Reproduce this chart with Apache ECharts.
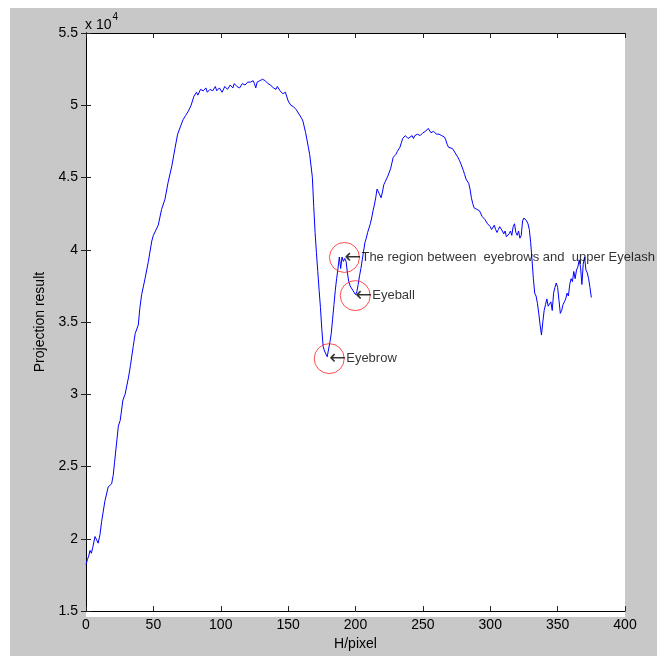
<!DOCTYPE html>
<html>
<head>
<meta charset="utf-8">
<script src="https://cdn.jsdelivr.net/npm/echarts@6/dist/echarts.min.js"></script>
<style>html,body{margin:0;padding:0;background:#fff;}#c{width:657px;height:656px;}</style>
</head>
<body>
<div id="c"></div>
<script>
// H/pixel positions
var hPixel = [0,1,2,3,4,5,6.7,9,10.4,11.6,14,16.5,19,20.2,21.2,23,24,25.4,27.4,29,31.6,33,35,36.5,38.8,40,41.3,43.8,46.3,48.8,50,53.6,56.1,58.6,61,63.7,66,68,70,72,74,76,78,80,82,83,85,87,89,90,92,94,96,97,99,101,103,105,107,109,110,112,114,116,118,120,122,124,125,126,127,129,131,133,135,137,139,141,142,144,146,148,150,152,154,156,158,160,161,162,163,164,165,166,167,168,169,170,171,172,173,174,175,176,177,178,179,180,181,182,183,184,185,186,187,188,189,190,191,192,193,194,195,196,197,198,199,200,201,202,203,204,205,206,207,208,209,210,211,212,213,214,215,216,217,218,219,220,221,222,223,224,225,226,227,228,229,230,231,232,233,234,235,236,237,238,239,240,242,243,244,246,248,250,252,254,255,256,258,260,262,264,266,267,268,269,270,272,273,274,276,277,278,280,281,282,284,285,286,287,288,290,292,294,296,298,299,300,301,302,303,304,305,306,307,308,309,310,311,312,313,314,315,316,317,318,319,320,321,322,323,324,325,326,327,328,329,330,331,332,333,334,335,336,337,338,339,340,341,342,343,344,345,346,347,348,349,350,351,352,353,354,355,356,357,358,359,360,361,362,363,364,365,366,367,368,369,370,371,372,373,374,375];
// Projection result values
var projection = [18200,18560,18800,19200,19000,19400,20160,19700,20300,21200,22600,23600,23800,24400,25300,26900,27800,28200,29600,30000,31200,32000,33300,34200,34800,36000,36900,38000,39200,40600,41000,41700,42800,43500,44700,45800,47000,48000,48500,49000,49300,49600,50000,50600,50900,50700,51100,51000,51200,50900,51100,51000,51300,51000,51200,50900,51300,51100,51400,51200,51500,51300,51200,51500,51400,51600,51600,51700,51500,51200,51600,51700,51800,51700,51500,51400,51200,51100,51300,51000,50800,50900,50300,50000,49900,49700,49400,49100,48900,48500,48100,47600,47100,46600,45800,45000,43000,41200,39800,38500,37200,36000,34500,33300,33000,32800,32600,32700,33600,34200,35200,36200,37200,38000,38700,39500,38700,39500,39200,39400,39200,38400,37800,37500,37400,37200,37100,36900,37100,37600,38200,38700,39300,39900,40500,40800,41200,41500,41800,42200,42700,43100,43600,44200,44300,43800,43600,44000,44500,44700,44900,45100,45200,45600,46000,46400,46500,46600,46800,46800,47100,47400,47700,47800,47900,47800,47700,47800,47900,47700,47900,48000,47900,48100,48200,48400,48300,48100,48200,48000,48000,47900,47800,47600,47300,47100,47000,47000,46900,46700,46400,46200,46000,45500,45200,44900,44600,44200,43600,43200,42900,42800,42700,42300,42100,41800,41700,41600,41400,41500,41700,41400,41200,41400,41600,41500,41300,41100,41300,40900,40800,41100,41300,41000,41600,41800,41200,41000,41300,40800,41000,42000,42200,42300,42000,41800,41400,40500,39300,38000,37000,36800,36300,35600,34800,34100,35000,35800,36200,36600,36100,36000,36400,35800,37000,37400,37700,37400,36500,35600,35800,36200,36400,36600,37000,36800,37600,38000,37800,38500,38000,38600,38800,39300,38800,37600,39000,39500,38600,38400,38000,37400,36700];
// Annotations
var annotX = [180.5, 191.8, 199.8];
var annotY = [32470, 39470, 36830];
var annotText = ['Eyebrow', 'The region between  eyebrows and  upper Eyelash', 'Eyeball'];
// Axis tick labels
var yTickLabels = ['1.5','2','2.5','3','3.5','4','4.5','5','5.5'];

var lineData = hPixel.map(function(x, i){ return [x, projection[i]]; });
var annData = annotX.map(function(x, i){ return {value:[x, annotY[i]], name: annotText[i]}; });

var font = 'Liberation Sans, Arial, Helvetica, sans-serif';
var chart = echarts.init(document.getElementById('c'), null, {renderer:'canvas'});
var axBase = {
  axisLine:{show:true, lineStyle:{color:'#000', width:1}},
  axisTick:{show:true, inside:true, length:5, lineStyle:{color:'#222', width:1}},
  splitLine:{show:false}
};
chart.setOption({
  animation:false,
  backgroundColor:'#ffffff',
  graphic:[
    {type:'rect', left:10, top:8, shape:{width:647, height:648}, style:{fill:'#c8c8c8'}, z:-10},
    {type:'rect', left:86, top:33, shape:{width:539, height:584}, style:{fill:'#ffffff'}, z:-9},
    {type:'text', left:85, top:12, z:10, style:{
      text:'{a|x 10}{b|4}', font:'14px '+font,
      rich:{a:{fontSize:14, fontFamily:font, fill:'#000', padding:[6,0,0,0]}, b:{fontSize:10, fontFamily:font, fill:'#000', verticalAlign:'top', padding:[0,0,6,1]}}
    }}
  ],
  grid:{left:86, top:33, width:539, height:584, containLabel:false},
  xAxis:[
    Object.assign({type:'value', min:0, max:400, interval:50, position:'bottom',
      name:'H/pixel', nameLocation:'middle', nameGap:24,
      nameTextStyle:{color:'#000', fontSize:14, fontFamily:font},
      axisLabel:{show:true, color:'#000', fontSize:14, fontFamily:font, margin:7}}, axBase),
    Object.assign({type:'value', min:0, max:400, interval:50, position:'top', axisLabel:{show:false}}, axBase)
  ],
  yAxis:[
    Object.assign({type:'value', min:15000, max:55000, interval:5000, position:'left',
      name:'Projection result', nameLocation:'middle', nameGap:38,
      nameTextStyle:{color:'#000', fontSize:14, fontFamily:font},
      axisLabel:{show:true, color:'#000', fontSize:14, fontFamily:font, margin:8,
        formatter:function(v){ var i = Math.round((v-15000)/5000); return yTickLabels[i]; }}}, axBase),
    Object.assign({type:'value', min:15000, max:55000, interval:5000, position:'right', axisLabel:{show:false}}, axBase)
  ],
  series:[
    {type:'line', data:lineData, showSymbol:false, symbol:'none', smooth:false,
      lineStyle:{color:'#0000ff', width:1}, z:3, silent:true},
    {type:'scatter', data:annData, symbol:'circle', symbolSize:30,
      itemStyle:{color:'rgba(0,0,0,0)', borderColor:'#ff2020', borderWidth:1}, z:4, silent:true},
    {type:'scatter', data:annData, symbol:'circle', symbolSize:0, z:5, silent:true,
      label:{show:true, position:'right', distance:0,
        formatter:function(p){ return '{a|\u2190}{t|' + p.name + '}'; },
        rich:{a:{fontSize:20, fontFamily:'DejaVu Sans', color:'#000', width:17},
              t:{fontSize:13, fontFamily:font, color:'#000'}}}}
  ]
});
</script>
</body>
</html>
